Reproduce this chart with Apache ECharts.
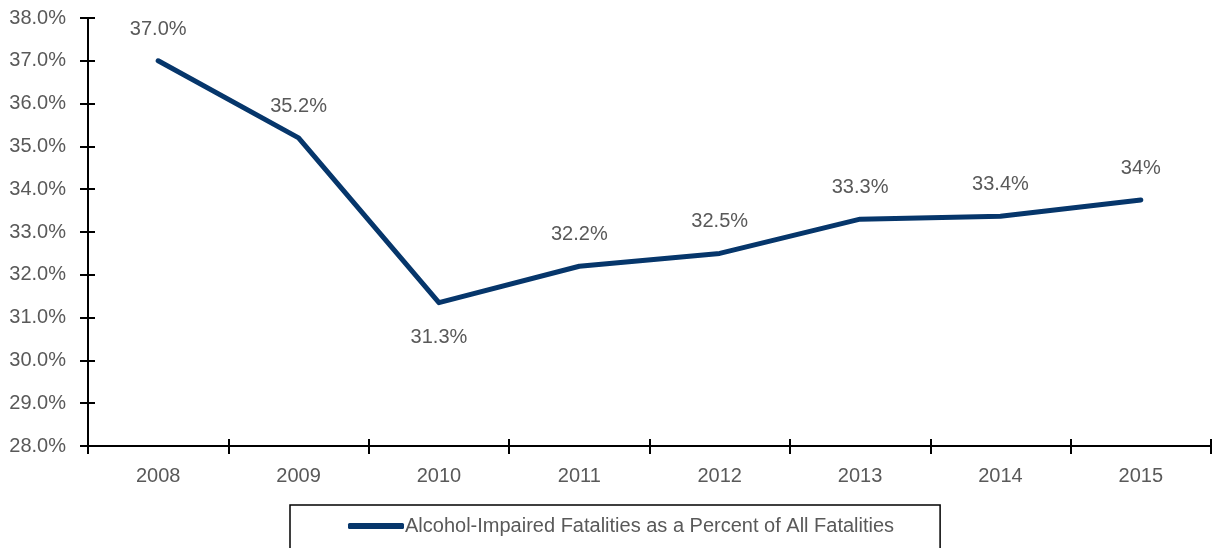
<!DOCTYPE html>
<html>
<head>
<meta charset="utf-8">
<script src="https://cdn.jsdelivr.net/npm/echarts@6/dist/echarts.min.js"></script>
<style>
  html, body { margin: 0; padding: 0; background: #fff; }
  #main { width: 1212px; height: 548px; }
</style>
</head>
<body>
<div id="main"></div>
<script>
// data
const years = ['2008', '2009', '2010', '2011', '2012', '2013', '2014', '2015'];
const percents = [37.0, 35.2, 31.35, 32.2, 32.5, 33.3, 33.37, 33.75];
const pointLabels = ['37.0%', '35.2%', '31.3%', '32.2%', '32.5%', '33.3%', '33.4%', '34%'];
const labelBelow = [false, false, true, false, false, false, false, false];
const seriesName = 'Alcohol-Impaired Fatalities as a Percent of All Fatalities';

const lineColor = '#06366b';
const textColor = '#595959';
const fontFam = '"Liberation Sans", Arial, sans-serif';
const fontSz = 20;

var chartDom = document.getElementById('main');
var myChart = echarts.init(chartDom);

const points = percents.map((v, i) => ({
    value: v,
    label: {
        formatter: pointLabels[i],
        position: labelBelow[i] ? 'bottom' : 'top',
        distance: labelBelow[i] ? 24 : 21
    }
}));

var option = {
    animation: false,
    backgroundColor: '#ffffff',
    textStyle: { fontFamily: fontFam },
    grid: {
        left: 88,
        right: 1,
        top: 18,
        bottom: 102,
        containLabel: false
    },
    legend: {
        data: [{ name: seriesName, icon: 'roundRect' }],
        left: 290,
        top: 505,
        padding: [11, 46, 30, 58],
        itemGap: 0,
        itemWidth: 56,
        itemHeight: 6,
        borderColor: '#000',
        borderWidth: 1.5,
        textStyle: { color: textColor, fontSize: fontSz, fontFamily: fontFam, padding: [0, 0, 0, -4] }
    },
    xAxis: [
        {
            type: 'category',
            data: years,
            boundaryGap: true,
            position: 'bottom',
            axisLine: { show: true, onZero: false, lineStyle: { color: '#000', width: 2 } },
            axisTick: { show: true, inside: false, length: 8, interval: 0, lineStyle: { color: '#000', width: 2 } },
            axisLabel: { color: textColor, fontSize: fontSz, margin: 20, interval: 0 },
            splitLine: { show: false }
        },
        {
            type: 'category',
            data: years,
            boundaryGap: true,
            position: 'bottom',
            axisLine: { show: false, onZero: false },
            axisTick: { show: true, inside: true, length: 7, interval: 0, lineStyle: { color: '#000', width: 2 } },
            axisLabel: { show: false },
            splitLine: { show: false }
        }
    ],
    yAxis: [
        {
            type: 'value',
            min: 28,
            max: 38,
            interval: 1,
            position: 'left',
            axisLine: { show: true, lineStyle: { color: '#000', width: 2 } },
            axisTick: { show: true, inside: false, length: 8, lineStyle: { color: '#000', width: 2 } },
            axisLabel: {
                color: textColor,
                fontSize: fontSz,
                margin: 22,
                formatter: (v) => v.toFixed(1) + '%'
            },
            splitLine: { show: false }
        },
        {
            type: 'value',
            min: 28,
            max: 38,
            interval: 1,
            position: 'left',
            axisLine: { show: false },
            axisTick: { show: true, inside: true, length: 7, lineStyle: { color: '#000', width: 2 } },
            axisLabel: { show: false },
            splitLine: { show: false }
        }
    ],
    series: [
        {
            name: seriesName,
            type: 'line',
            xAxisIndex: 0,
            yAxisIndex: 0,
            data: points,
            symbol: 'circle',
            symbolSize: 1,
            showSymbol: true,
            itemStyle: { color: lineColor },
            lineStyle: { color: lineColor, width: 5, cap: 'round', join: 'round' },
            label: {
                show: true,
                color: textColor,
                fontSize: fontSz,
                fontFamily: fontFam
            },
            emphasis: { disabled: true }
        }
    ]
};

option && myChart.setOption(option);
</script>
</body>
</html>
